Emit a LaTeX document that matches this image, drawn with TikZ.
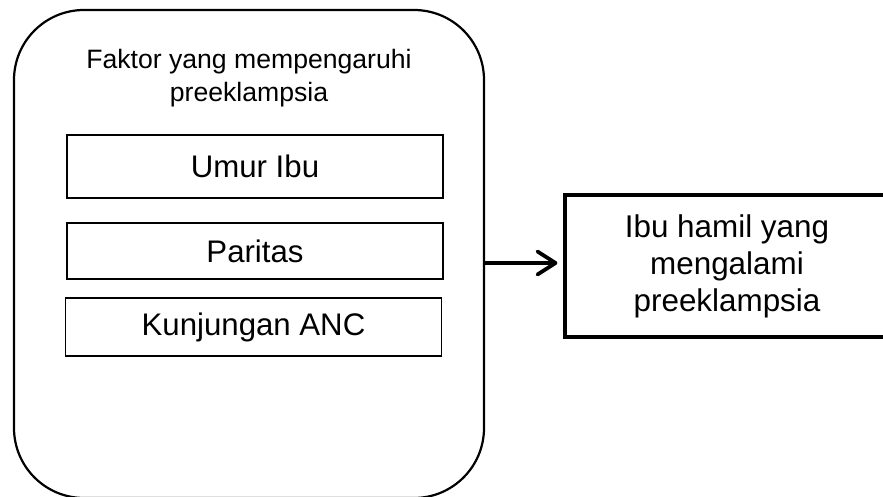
\documentclass[tikz,border=0pt]{standalone}
\usepackage{fontspec}
\setmainfont{Liberation Sans}
\usetikzlibrary{arrows.meta}
\begin{document}
\begin{tikzpicture}[x=0.5pt,y=-0.5pt,
  outerbox/.style={draw, line width=1.1pt, rounded corners=35pt, inner sep=0pt,
    minimum width=235pt, minimum height=244pt},
  factorbox/.style={draw, line width=0.8pt, inner sep=0pt, minimum width=188pt,
    font=\fontsize{15.6pt}{18pt}\selectfont},
  resultbox/.style={draw, line width=1.6pt, inner sep=0pt, minimum width=162pt,
    minimum height=71pt, align=center, font=\fontsize{15.7pt}{18.5pt}\selectfont},
  titletext/.style={align=center, inner sep=0pt, font=\fontsize{13.3pt}{16.5pt}\selectfont},
  arrowline/.style={line width=1.9pt, line cap=round,
    -{Straight Barb[length=9pt,width=11.5pt,round]}, shorten >=3pt}
]
\useasboundingbox (0,0) rectangle (883,497);
\clip (0,0) rectangle (883,497);
\node[outerbox] (outer) at (249,254) {};
\node[titletext] (title) at (249,78) {Faktor yang mempengaruhi\\preeklampsia};
\node[factorbox, minimum height=31.5pt] (umur) at (255,166.5) {Umur Ibu};
\node[factorbox, minimum height=28pt] (paritas) at (255,251) {Paritas};
\node[factorbox, minimum height=29pt] (anc) at (253.5,327) {Kunjungan ANC};
\node[resultbox] (hasil) at (727,266) {Ibu hamil yang\\mengalami\\preeklampsia};
\draw[arrowline] (outer.east |- 0,263) -- (hasil.west |- 0,263);
\end{tikzpicture}
\end{document}
